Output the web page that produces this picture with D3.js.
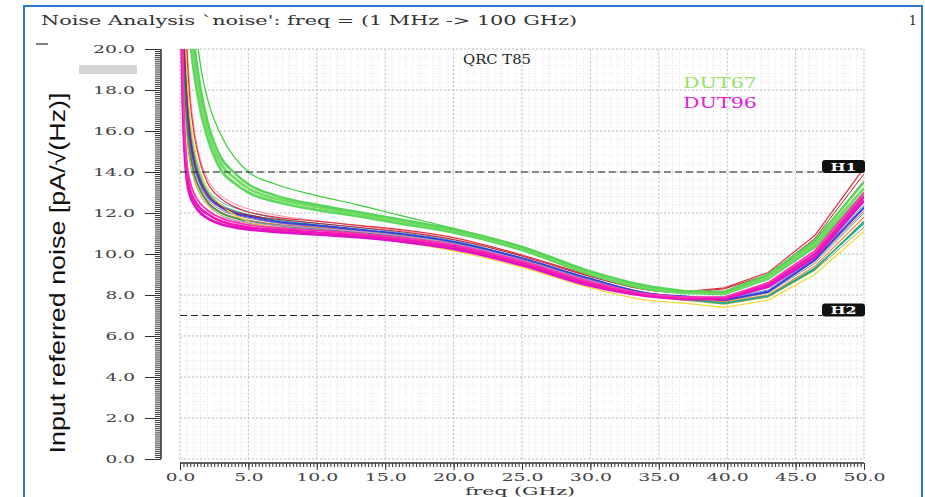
<!DOCTYPE html>
<html>
<head>
<meta charset="utf-8">
<script src="https://cdn.jsdelivr.net/npm/d3@7"></script>
<style>
  body { margin: 0; background: #fff; }
  svg { display: block; }
</style>
</head>
<body>
<svg id="chart" width="925" height="497"></svg>
<script>
// frequency points (GHz) of the sweep
const freqGHz = [0.05, 0.1, 0.2, 0.3, 0.5, 0.75, 1.0, 1.5, 2.0, 3.0, 4.0, 5.0, 7.0, 10.0, 13.0, 16.0, 20.0, 25.0, 30.0, 34.1, 36.8, 39.8, 43.0, 46.4, 50.0];

// input referred noise, pA/sqrt(Hz)
const dut67a = [90, 55, 35, 28, 23.5, 21.3, 19.8, 17.6, 16.1, 14.4, 13.7, 13.2, 12.7, 12.3, 11.95, 11.6, 11.15, 10.3, 9.1, 8.4, 8.15, 8.1, 8.9, 10.5, 13.2];
const dut67b = [85, 50, 32, 26, 22.3, 20.4, 19.0, 17.0, 15.7, 14.1, 13.45, 13.0, 12.55, 12.15, 11.85, 11.5, 11.05, 10.2, 9.0, 8.3, 8.1, 8.05, 8.8, 10.35, 12.9];
const dut67c = [95, 58, 37, 29, 24.5, 22, 20.5, 18.1, 16.5, 14.7, 13.95, 13.4, 12.85, 12.4, 12.05, 11.7, 11.2, 10.35, 9.15, 8.45, 8.2, 8.15, 9.0, 10.65, 13.5];
const greenTop = [100, 60, 40, 32, 27, 24, 22, 19.2, 17.6, 15.8, 14.7, 14.0, 13.4, 12.85, 12.4, 11.9, 11.25, 10.35, 9.15, 8.4, 8.2, 8.1, 8.85, 10.4, 13.0];
const dut96a = [60, 23, 18, 16, 14, 13.1, 12.7, 12.2, 11.95, 11.6, 11.42, 11.3, 11.18, 11.05, 10.92, 10.72, 10.35, 9.55, 8.55, 8.0, 7.85, 7.85, 8.5, 10.0, 12.8];
const dut96b = [55, 22, 17.3, 15.4, 13.6, 12.8, 12.45, 12.0, 11.75, 11.45, 11.3, 11.2, 11.08, 10.95, 10.82, 10.62, 10.25, 9.45, 8.45, 7.95, 7.8, 7.8, 8.4, 9.85, 12.6];
const dut96c = [65, 25, 19, 16.7, 14.5, 13.5, 13.0, 12.45, 12.15, 11.75, 11.55, 11.42, 11.28, 11.15, 11.0, 10.8, 10.45, 9.65, 8.65, 8.05, 7.9, 7.9, 8.6, 10.15, 13.0];
const redA = [75, 44, 30, 24, 20, 17.4, 16.0, 14.4, 13.5, 12.7, 12.3, 12.05, 11.8, 11.6, 11.4, 11.2, 10.8, 9.95, 8.95, 8.3, 8.15, 8.35, 9.1, 10.9, 14.2];
const redB = [68, 38, 26, 21, 17.8, 15.8, 14.7, 13.6, 12.95, 12.35, 12.05, 11.9, 11.7, 11.5, 11.3, 11.1, 10.7, 9.9, 8.9, 8.25, 8.1, 8.3, 9.0, 10.75, 13.9];
const blueA = [70, 38, 25, 21, 17.5, 15.6, 14.6, 13.5, 12.9, 12.3, 12.0, 11.85, 11.6, 11.4, 11.2, 11.0, 10.6, 9.8, 8.8, 8.1, 7.95, 7.75, 8.15, 9.7, 12.25];
const yellowA = [72, 42, 28, 22.5, 18.8, 16.6, 15.4, 14.0, 13.2, 12.4, 11.9, 11.6, 11.3, 11.05, 10.85, 10.6, 10.15, 9.35, 8.35, 7.75, 7.6, 7.4, 7.75, 9.0, 11.1];
const tealA = [72, 40, 26, 21.5, 18, 16, 14.9, 13.7, 13.05, 12.4, 12.1, 11.92, 11.65, 11.42, 11.2, 10.98, 10.55, 9.7, 8.7, 8.0, 7.8, 7.6, 7.95, 9.3, 11.5];
const orangeA = [62, 34, 23, 19, 16.2, 14.7, 13.9, 13.0, 12.5, 12.0, 11.75, 11.6, 11.4, 11.25, 11.08, 10.88, 10.5, 9.7, 8.7, 8.05, 7.85, 7.65, 8.0, 9.4, 11.8];
const grayA = [66, 36, 24, 20, 17, 15.2, 14.3, 13.3, 12.7, 12.15, 11.9, 11.75, 11.52, 11.33, 11.15, 10.95, 10.55, 9.75, 8.75, 8.1, 7.9, 7.7, 8.1, 9.55, 12.0];
const lilacA = [45, 24, 17.5, 15.5, 13.8, 13.0, 12.6, 12.25, 12.05, 11.8, 11.65, 11.55, 11.4, 11.25, 11.1, 10.9, 10.5, 9.7, 8.7, 8.05, 7.9, 7.85, 8.4, 9.9, 12.7];
const cyanA = [75, 42, 27, 22, 18.3, 16.3, 15.2, 13.9, 13.2, 12.55, 12.25, 12.05, 11.75, 11.5, 11.3, 11.05, 10.65, 9.8, 8.8, 8.1, 7.9, 7.8, 8.25, 9.8, 12.4];
const oliveA = [58, 32, 22, 18.5, 15.8, 14.4, 13.7, 12.85, 12.4, 11.9, 11.65, 11.5, 11.32, 11.18, 11.02, 10.82, 10.42, 9.6, 8.6, 7.95, 7.75, 7.55, 7.9, 9.2, 11.3];
const brownA = [64, 35, 23.5, 19.5, 16.6, 15.0, 14.1, 13.15, 12.6, 12.05, 11.8, 11.65, 11.45, 11.3, 11.12, 10.92, 10.52, 9.72, 8.72, 8.08, 7.88, 7.72, 8.15, 9.65, 12.1];
const pinkA = [80, 46, 31, 25, 20.6, 17.8, 16.3, 14.6, 13.7, 12.85, 12.45, 12.2, 11.9, 11.62, 11.38, 11.15, 10.72, 9.9, 8.9, 8.25, 8.1, 8.2, 8.9, 10.6, 13.6];
const darkGreenA = [60, 34, 23, 19.2, 16.4, 14.9, 14.0, 13.1, 12.55, 12.0, 11.75, 11.6, 11.4, 11.22, 11.05, 10.85, 10.45, 9.65, 8.65, 8.0, 7.8, 7.6, 7.95, 9.25, 11.6];
const purpleA = [67, 37, 24.5, 20.5, 17.2, 15.4, 14.45, 13.4, 12.8, 12.25, 11.95, 11.8, 11.55, 11.37, 11.18, 10.98, 10.58, 9.78, 8.78, 8.1, 7.92, 7.75, 8.2, 9.75, 12.3];

const xTicks = [0, 5, 10, 15, 20, 25, 30, 35, 40, 45, 50];
const yTicks = [0, 2, 4, 6, 8, 10, 12, 14, 16, 18, 20];
const markers = [{ label: "H1", value: 14 }, { label: "H2", value: 7 }];
const legendNames = ["DUT67", "DUT96"];

// draw order: thin curves first, highlighted DUTs on top
const curves = [
  { v: grayA, c: "#8a8aa8", w: 1 },
  { v: brownA, c: "#b06a40", w: 1 },
  { v: oliveA, c: "#9aae30", w: 1 },
  { v: orangeA, c: "#f08a2a", w: 1.2 },
  { v: darkGreenA, c: "#1f9a55", w: 1.2 },
  { v: tealA, c: "#20a898", w: 1.4 },
  { v: cyanA, c: "#38b8d0", w: 1 },
  { v: purpleA, c: "#7a48cc", w: 1.2 },
  { v: blueA, c: "#2f3fdc", w: 1.6 },
  { v: yellowA, c: "#f0dc30", w: 1.2 },
  { v: lilacA, c: "#c090ee", w: 1 },
  { v: pinkA, c: "#ff8aa8", w: 1 },
  { v: redB, c: "#b8202e", w: 1 },
  { v: redA, c: "#e03040", w: 1.2 },
  { v: greenTop, c: "#3ccc3c", w: 1.2 },
  { v: dut67b, c: "#60d860", w: 2.8 },
  { v: dut67a, c: "#74dc62", w: 2.8 },
  { v: dut67c, c: "#58d458", w: 2.4 },
  { v: dut96b, c: "#e010c8", w: 2.6 },
  { v: dut96a, c: "#f018b0", w: 2.6 },
  { v: dut96c, c: "#ff30b8", w: 1.8 }
];

const svg = d3.select("#chart");
const plotL = 180, plotR = 864, plotT = 49, plotB = 459;

const x = d3.scaleLinear().domain([0, 50]).range([plotL, plotR]);
const y = d3.scaleLinear().domain([0, 20]).range([plotB, plotT]);

// outer frame
svg.append("path")
  .attr("d", "M24,497 L24,6 L922,6 L922,497")
  .attr("fill", "none")
  .attr("stroke", "#2a78cc")
  .attr("stroke-width", 2);

// header
svg.append("text")
  .attr("x", 41).attr("y", 25)
  .attr("textLength", 536).attr("lengthAdjust", "spacingAndGlyphs")
  .style("font-family", "DejaVu Serif").style("font-size", "13px").style("fill", "#333")
  .text("Noise Analysis `noise': freq = (1 MHz -> 100 GHz)");
svg.append("text")
  .attr("x", 909).attr("y", 25)
  .style("font-family", "DejaVu Serif").style("font-size", "12px").style("fill", "#222")
  .text("1");
svg.append("line").attr("x1", 36).attr("x2", 48).attr("y1", 44).attr("y2", 44)
  .attr("stroke", "#555").attr("stroke-width", 1.5);
svg.append("rect").attr("x", 79).attr("y", 65).attr("width", 58).attr("height", 9)
  .attr("fill", "#d4d4d4");

// grid
const grid = svg.append("g");
grid.selectAll(".vmin").data(d3.range(0, 50.01, 0.5)).enter().append("line")
  .attr("x1", d => x(d)).attr("x2", d => x(d)).attr("y1", plotT).attr("y2", plotB)
  .attr("stroke", "#e8e8e8").attr("stroke-dasharray", "1,1");
grid.selectAll(".hmin").data(d3.range(0, 20.01, 0.4)).enter().append("line")
  .attr("x1", plotL).attr("x2", plotR).attr("y1", d => y(d)).attr("y2", d => y(d))
  .attr("stroke", "#ececec").attr("stroke-dasharray", "1,1");
grid.selectAll(".vmaj").data(xTicks).enter().append("line")
  .attr("x1", d => x(d)).attr("x2", d => x(d)).attr("y1", plotT).attr("y2", plotB)
  .attr("stroke", "#c4c4c4").attr("stroke-dasharray", "2,2");
grid.selectAll(".hmaj").data(yTicks).enter().append("line")
  .attr("x1", plotL).attr("x2", plotR).attr("y1", d => y(d)).attr("y2", d => y(d))
  .attr("stroke", "#c4c4c4").attr("stroke-dasharray", "2,2");

// axes
const tickLen = s => s.replace(/\./g, "").length * 12.7 + 4;
const fmt = d => d.toFixed(1);

const yAxisX = 161;
svg.append("g")
  .attr("transform", `translate(${yAxisX},0)`)
  .call(d3.axisLeft(y).tickValues(d3.range(0, 20.01, 0.1)).tickSize(6).tickFormat(""))
  .call(g => g.select(".domain").remove());
const yAx = svg.append("g")
  .attr("transform", `translate(${yAxisX},0)`)
  .call(d3.axisLeft(y).tickValues(yTicks).tickSize(16).tickPadding(10).tickFormat(fmt));
yAx.select(".domain").attr("d", `M0,${plotT}V${plotB}`);

const xAxisY = 463;
svg.append("g")
  .attr("transform", `translate(0,${xAxisY})`)
  .call(d3.axisBottom(x).tickValues(d3.range(0, 50.01, 0.25)).tickSize(4).tickFormat(""))
  .call(g => g.select(".domain").remove());
const xAx = svg.append("g")
  .attr("transform", `translate(0,${xAxisY})`)
  .call(d3.axisBottom(x).tickValues(xTicks).tickSize(7).tickPadding(3).tickFormat(fmt));
xAx.select(".domain").attr("d", `M${plotL},0H${plotR}`);

svg.selectAll(".tick line").attr("stroke", "#333");
svg.selectAll(".domain").attr("stroke", "#333").attr("stroke-width", 1.5);
svg.selectAll(".tick text")
  .style("font-family", "DejaVu Serif").style("font-size", "11px").style("fill", "#444")
  .attr("lengthAdjust", "spacingAndGlyphs")
  .attr("textLength", function () { return tickLen(this.textContent); });

// curves: smooth through the dense low-frequency part, straight segments
// between the sparse sweep points at the top end
svg.append("clipPath").attr("id", "plotClip")
  .append("rect").attr("x", plotL).attr("y", plotT).attr("width", plotR - plotL).attr("height", plotB - plotT);

const splitAt = 20; // index of 36.8 GHz
const smooth = d3.line()
  .x(d => x(d[0])).y(d => y(d[1]))
  .curve(d3.curveMonotoneX);
const straight = d3.line()
  .x(d => x(d[0])).y(d => y(d[1]));
const pathFor = c => {
  const pts = c.v.map((v, i) => [freqGHz[i], v]);
  return smooth(pts.slice(0, splitAt + 1)) + straight(pts.slice(splitAt));
};

svg.append("g").attr("clip-path", "url(#plotClip)")
  .selectAll("path").data(curves).enter().append("path")
  .attr("d", pathFor)
  .attr("fill", "none")
  .attr("stroke", d => d.c)
  .attr("stroke-width", d => d.w)
  .attr("stroke-linejoin", "round");

// horizontal markers
const mk = svg.append("g").selectAll("g").data(markers).enter().append("g");
mk.append("line")
  .attr("x1", plotL).attr("x2", 822)
  .attr("y1", d => y(d.value)).attr("y2", d => y(d.value))
  .attr("stroke", "#222").attr("stroke-width", 1.2).attr("stroke-dasharray", "7,4");
mk.append("rect")
  .attr("x", 822).attr("y", d => y(d.value) - 12).attr("width", 43).attr("height", 13)
  .attr("rx", 3).attr("fill", "#111");
mk.append("text")
  .attr("x", 843.5).attr("y", d => y(d.value) - 1.5)
  .attr("text-anchor", "middle")
  .attr("textLength", 26).attr("lengthAdjust", "spacingAndGlyphs")
  .style("font-family", "DejaVu Serif").style("font-weight", "bold").style("font-size", "11px")
  .style("fill", "#fff")
  .text(d => d.label);

// annotations
svg.append("text")
  .attr("x", 497).attr("y", 64).attr("text-anchor", "middle")
  .attr("textLength", 68).attr("lengthAdjust", "spacingAndGlyphs")
  .style("font-family", "DejaVu Serif").style("font-size", "12px").style("fill", "#222")
  .text("QRC T85");
svg.selectAll(".legend").data(legendNames).enter().append("text")
  .attr("x", 720).attr("y", (d, i) => 88 + i * 20).attr("text-anchor", "middle")
  .attr("textLength", 74).attr("lengthAdjust", "spacingAndGlyphs")
  .style("font-family", "DejaVu Serif").style("font-size", "14px")
  .style("fill", (d, i) => i === 0 ? "#9ade6a" : "#e020e0")
  .text(d => d);

// axis titles
svg.append("text")
  .attr("x", 520).attr("y", 495).attr("text-anchor", "middle")
  .attr("textLength", 110).attr("lengthAdjust", "spacingAndGlyphs")
  .style("font-family", "DejaVu Serif").style("font-size", "11.5px").style("fill", "#333")
  .text("freq (GHz)");
svg.append("text")
  .attr("transform", "translate(57,273) rotate(-90)")
  .attr("text-anchor", "middle").attr("dominant-baseline", "central")
  .attr("textLength", 361).attr("lengthAdjust", "spacingAndGlyphs")
  .style("font-family", "Liberation Sans").style("font-size", "22px").style("fill", "#111")
  .text("Input referred noise [pA/\u221A(Hz)]");
</script>
</body>
</html>
